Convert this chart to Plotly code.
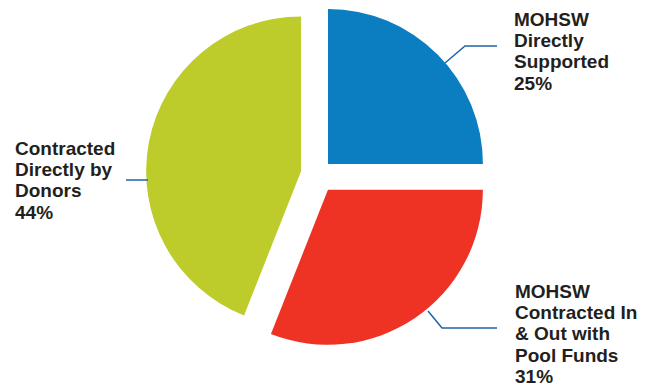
import plotly.graph_objects as go

# ---- data ----
categories = ["MOHSW<br>Directly<br>Supported",
              "MOHSW<br>Contracted In<br>& Out with<br>Pool Funds",
              "Contracted<br>Directly by<br>Donors"]
values = [25, 31, 44]
colors = ["#0b7dc1", "#ee3224", "#bdcc2a"]
pulls = [0.096, 0.12, 0.108]

W, H = 660, 387

fig = go.Figure(go.Pie(
    labels=categories, values=values, sort=False, direction="clockwise",
    rotation=0, pull=pulls, marker=dict(colors=colors, line=dict(width=0)),
    textinfo="none", hoverinfo="skip", showlegend=False,
    domain=dict(x=[0, 635 / W], y=[39 / H, 386 / H]),
))

# label placement (pixel positions of first baseline, left edge) and leader lines
label_pos = [(513, 26), (514, 298), (14, 155)]
line_step = 21.3
fsize = 19
leaders = [
    [(445, 63), (465, 46), (497, 46)],
    [(428, 311), (442, 328), (497, 328)],
    [(126, 180), (148, 180)],
]

def px(x):
    return x / W

def py(y):
    return 1 - y / H

annotations = []
for cat, val, (lx, ly) in zip(categories, values, label_pos):
    lines = cat.split("<br>") + [f"{val}%"]
    for i, t in enumerate(lines):
        base = ly + i * line_step
        annotations.append(dict(
            x=px(lx), y=py(base - 0.35 * fsize), xref="paper", yref="paper",
            xanchor="left", yanchor="middle", showarrow=False, text=t,
            font=dict(family="Liberation Sans", size=fsize, color="#231f20"),
            borderpad=0,
        ))

shapes = []
for pts in leaders:
    path = "M " + " L ".join(f"{px(x)},{py(y)}" for x, y in pts)
    shapes.append(dict(type="path", path=path, xref="paper", yref="paper",
                       line=dict(color="#1f63a6", width=1.5)))

fig.update_layout(
    width=W, height=H, margin=dict(l=0, r=0, t=0, b=0),
    paper_bgcolor="white", plot_bgcolor="white",
    annotations=annotations, shapes=shapes,
)
fig.update_annotations(font_family="Liberation Sans")
# bold text
for a in fig.layout.annotations:
    a.text = f"<b>{a.text}</b>"

fig.write_html("out.html")
